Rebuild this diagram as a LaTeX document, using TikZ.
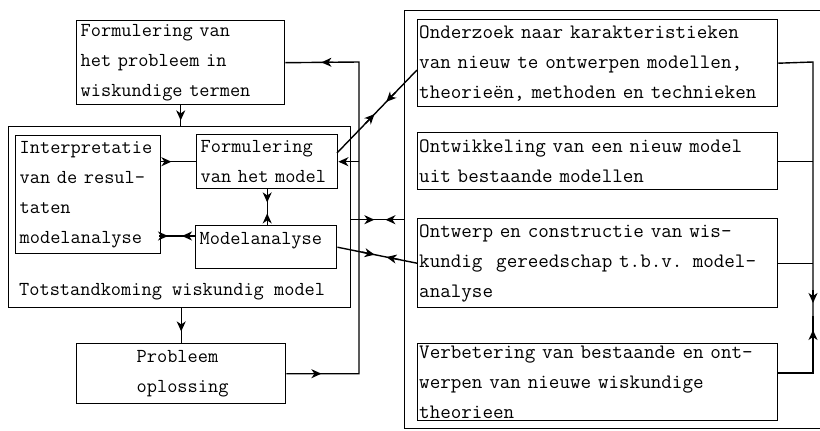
\documentclass[tikz,border=0pt]{standalone}
\usepackage{fontspec}
\newcommand\lfont{\ttfamily\addfontfeatures{FakeBold=0.7}\fontsize{19.8}{30}\selectfont}
\newcommand\rfont{\ttfamily\addfontfeatures{FakeBold=0.7}\fontsize{20.5}{30}\selectfont}
\usetikzlibrary{arrows.meta,calc}
\hyphenpenalty=10000
\exhyphenpenalty=10000
\tikzset{
  mytip/.tip={Stealth[length=10pt,width=9pt,inset=3pt]},
  box/.style={draw, line width=1.4pt, inner xsep=4pt, inner ysep=0pt, align=left,
    font=\lfont, anchor=north west},
  rbox/.style={box, inner xsep=1.5pt, font=\rfont},
  conn/.style={line width=1.4pt},
  tipseg/.style={line width=1.4pt, -{mytip}},
}
\begin{document}
\begin{tikzpicture}[x=1pt,y=-1pt]
\useasboundingbox (0,0) rectangle (820,431);
% left part
\node[box, minimum width=208, minimum height=84, text width=200] (P1) at (76,20)
  {Formulering van\\het probleem in\\wiskundige termen};
\node[box, minimum width=342, minimum height=181] (TM) at (8,126) {};
\node[font=\lfont, anchor=west, inner sep=0pt] (TMlab) at (19,292) {Totstandkoming wiskundig model};
\node[box, minimum width=145, minimum height=118, text width=137] (IN) at (15,135)
  {Interpretatie\\van de resul-\\taten\\modelanalyse};
\node[box, minimum width=141, minimum height=54, text width=133] (FM) at (196,134)
  {Formulering\\van het model};
\node[box, minimum width=141, minimum height=43, text width=133, text depth=18pt] (MA) at (195,225)
  {Modelanalyse};
\node[box, minimum width=209, minimum height=60, text width=201] (PO) at (76,343)
  {\hspace*{56pt}Probleem\\\hspace*{56pt}oplossing};
% right part
\node[box, minimum width=419, minimum height=418] (R) at (404,10) {};
\node[rbox, minimum width=360, minimum height=87, text width=357] (On) at (417,19)
  {Onderzoek naar karakteristieken\\van nieuw te ontwerpen modellen,\\theorieën, methoden en technieken};
\node[rbox, minimum width=360, minimum height=57, text width=357] (Ow) at (417,132)
  {Ontwikkeling van een nieuw model\\uit bestaande modellen};
\node[rbox, minimum width=360, minimum height=89, text width=357] (Oc) at (417,218)
  {Ontwerp en constructie van wis-\\kundig\ \ gereedschap t.b.v. model-\\analyse};
\node[rbox, minimum width=360, minimum height=77, text width=357] (Vb) at (417,343)
  {Verbetering van bestaande en ont-\\werpen van nieuwe wiskundige\\theorieen};
% bus coordinates
\coordinate (lbtop) at (359,62);
\coordinate (rbtop) at (813,62);
\coordinate (rbmid) at (813,316);
\coordinate (rbbot) at (813,373);
\coordinate (maL) at (195,236);
\coordinate (fmR) at (337,153);
\coordinate (onL) at (417,70);
% --- connectors left
\draw[conn] (P1.south) -- (P1.south |- TM.north);
\draw[tipseg] ($(P1.south)!3pt!(P1.south |- TM.north)$) -- ($(P1.south)!15pt!(P1.south |- TM.north)$);
\draw[conn] (PO.north |- TM.south) -- (PO.north);
\draw[tipseg] ($(PO.north |- TM.south)!11pt!(PO.north)$) -- ($(PO.north |- TM.south)!23pt!(PO.north)$);
\draw[conn] (PO.east) -| (lbtop) -- (P1.east);
\draw[tipseg] ($(PO.east)!23pt!(lbtop |- PO.east)$) -- ($(PO.east)!35pt!(lbtop |- PO.east)$);
\draw[tipseg] ($(P1.east)!48pt!(lbtop)$) -- ($(P1.east)!36pt!(lbtop)$);
\draw[conn, -{mytip}] (lbtop |- FM.east) -- (FM.east);
\draw[conn] (IN.east |- FM.west) -- (FM.west);
\draw[tipseg] ($(IN.east |- FM.west)!0pt!(FM.west)$) -- ($(IN.east |- FM.west)!10pt!(FM.west)$);
\draw[conn] (FM.south) -- (FM.south |- MA.north);
\draw[tipseg] ($(FM.south)!1pt!(FM.south |- MA.north)$) -- ($(FM.south)!13pt!(FM.south |- MA.north)$);
\draw[tipseg] ($(FM.south)!36pt!(FM.south |- MA.north)$) -- ($(FM.south)!24pt!(FM.south |- MA.north)$);
\draw[conn] (maL) -- (IN.east |- maL);
\draw[tipseg] ($(maL)!1pt!(IN.east |- maL)$) -- ($(maL)!13pt!(IN.east |- maL)$);
\draw[tipseg] ($(maL)!36pt!(IN.east |- maL)$) -- ($(maL)!27pt!(IN.east |- maL)$);
% --- connectors across
\draw[conn] (TM.east |- R.west) -- (R.west);
\draw[tipseg] ($(TM.east |- R.west)!11pt!(R.west)$) -- ($(TM.east |- R.west)!23pt!(R.west)$);
\draw[tipseg] ($(TM.east |- R.west)!46pt!(R.west)$) -- ($(TM.east |- R.west)!34pt!(R.west)$);
\draw[conn] (MA.east) -- (Oc.west);
\draw[tipseg] ($(MA.east)!25pt!(Oc.west)$) -- ($(MA.east)!38pt!(Oc.west)$);
\draw[tipseg] ($(MA.east)!63pt!(Oc.west)$) -- ($(MA.east)!50pt!(Oc.west)$);
\draw[conn] (fmR) -- (onL);
\draw[tipseg] ($(fmR)!41pt!(onL)$) -- ($(fmR)!54pt!(onL)$);
\draw[tipseg] ($(fmR)!84pt!(onL)$) -- ($(fmR)!71pt!(onL)$);
% --- right bus
\draw[conn] (On.east) -- (rbtop) -- (rbmid);
\draw[tipseg] ($(rbtop)!228pt!(rbmid)$) -- ($(rbtop)!241pt!(rbmid)$);
\draw[conn] (Vb.east |- rbbot) -- (rbbot) -- (rbmid);
\draw[tipseg] ($(rbmid)!27pt!(rbbot)$) -- ($(rbmid)!14pt!(rbbot)$);
\draw[conn] (Ow.east) -- (Ow.east -| rbtop);
\draw[conn] (Oc.east) -- (Oc.east -| rbtop);
\end{tikzpicture}
\end{document}
